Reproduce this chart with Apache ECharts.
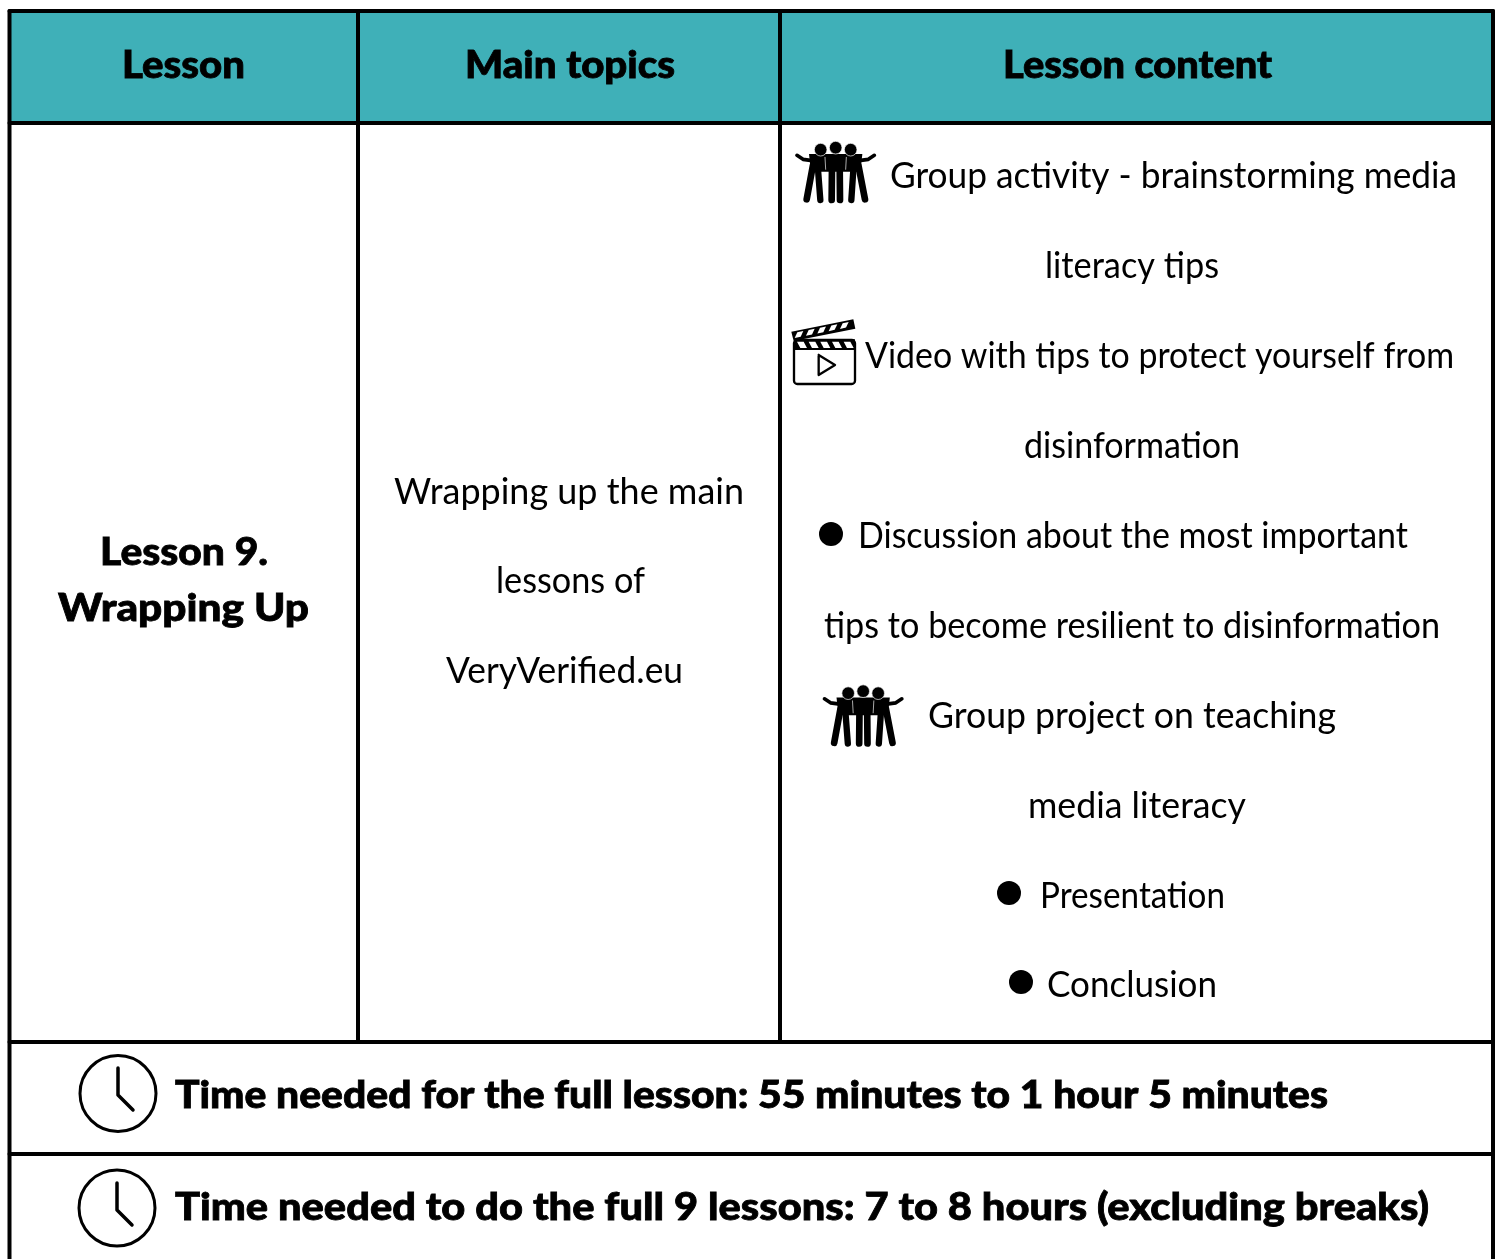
<!DOCTYPE html>
<html><head><meta charset="utf-8">
<style>html,body{margin:0;padding:0;background:#fff}#c{width:1499px;height:1259px}</style>
<script src="https://cdn.jsdelivr.net/npm/echarts@6/dist/echarts.min.js"></script>
</head><body><div id="c"></div>
<script>
const headers = ["Lesson", "Main topics", "Lesson content"];
const lessonTitle = ["Lesson 9.", "Wrapping Up"];
const mainTopics = ["Wrapping up the main", "lessons of", "VeryVerified.eu"];
const lessonContent = [
  "Group activity - brainstorming media", "literacy tips",
  "Video with tips to protect yourself from", "disinformation",
  "Discussion about the most important", "tips to become resilient to disinformation",
  "Group project on teaching", "media literacy", "Presentation", "Conclusion"
];
const footers = [
  "Time needed for the full lesson: 55 minutes to 1 hour 5 minutes",
  "Time needed to do the full 9 lessons: 7 to 8 hours (excluding breaks)"
];

const TEAL = "#3fb0b8", INK = "#000";
const REG = "Lato", BOLD = "Lato";
const ctx = document.createElement("canvas").getContext("2d");
function fit(str, x0, x1, cy, size, weight) {
  const font = `${weight} ${size}px ${weight > 500 ? BOLD : REG}`;
  ctx.font = font;
  const w = ctx.measureText(str).width;
  const style = { text: str, font, fill: INK, textAlign: "left", textVerticalAlign: "middle" };
  if (weight > 500) { style.stroke = INK; style.lineWidth = 0.8; }
  return { type: "text", x: x0, y: cy, scaleX: (x1 - x0) / w, z: 5, style };
}
const seg = (x1, y1, x2, y2, w, c) => ({ type: "line", z: 4,
  shape: { x1, y1, x2, y2 }, style: { stroke: c || INK, lineWidth: w, lineCap: "round" } });
const poly = (points, style) => ({ type: "polyline", z: 4, shape: { points },
  style: Object.assign({ fill: "none", stroke: INK, lineJoin: "round", lineCap: "round" }, style) });
const dot = (cx, cy, r, extra) => ({ type: "circle", z: 4, shape: { cx, cy, r }, style: Object.assign({ fill: INK }, extra) });

function people(x, y) {
  const kids = [
    { type: "polygon", z: 4, shape: { points: [[72,72],[232,72],[226,125],[78,125]] }, style: { fill: INK } },
    seg(84,105,65,208,20), seg(98,105,106,210,19),
    seg(141,105,140,210,20), seg(164,105,165,210,20),
    seg(206,105,199,210,19), seg(220,105,240,208,20),
    poly([[36,76],[54,88],[82,92]], { lineWidth: 11 }),
    poly([[268,76],[250,88],[222,92]], { lineWidth: 11 }),
    seg(120,82,122,118,2,"#fff"), seg(184,82,182,118,2,"#fff"),
    dot(107,59,19,{ stroke:"#fff", lineWidth:2 }), dot(197,59,19,{ stroke:"#fff", lineWidth:2 }),
    dot(152,53,19,{ stroke:"#fff", lineWidth:2 })
  ];
  return { type: "group", x, y, scaleX: 1/3, scaleY: 1/3, children: kids };
}
function clapper(x, y) {
  const kids = [
    { type: "rect", z: 4, shape: { x: 27, y: 90, width: 183, height: 132, r: 10 }, style: { fill: "#fff", stroke: INK, lineWidth: 7 } },
    { type: "rect", z: 4, shape: { x: 27, y: 88, width: 183, height: 32 }, style: { fill: INK } },
    { type: "polygon", z: 4, shape: { points: [[19,65],[205,28],[211,56],[26,93]] }, style: { fill: INK } }
  ];
  for (const i of [0,1,2,3,4]) {
    const ox = 36 + i * 35;
    kids.push({ type: "polygon", z: 5, shape: { points: [[ox,95],[ox+20,95],[ox+30,114],[ox+10,114]] }, style: { fill: "#fff" } });
    const a = 33 + i * 34, t = 66 - i * 6.8;
    kids.push({ type: "polygon", z: 5, shape: { points: [[a+4,t+1],[a+22,t-3],[a+14,t+14],[a-4,t+18]] }, style: { fill: "#fff" } });
  }
  kids.push(poly([[101,135],[150,165],[101,195],[101,135]], { lineWidth: 7 }));
  return { type: "group", x, y, scaleX: 1/3, scaleY: 1/3, children: kids };
}
function clock(cx, cy, r, top, knee, ex, ey) {
  return [
    { type: "circle", z: 4, shape: { cx, cy, r }, style: { fill: "none", stroke: INK, lineWidth: 3 } },
    poly([[cx, top], [cx, knee], [ex, ey]], { lineWidth: 3.5 })
  ];
}

const B = 4;
const el = [
  { type: "rect", z: 1, shape: { x: 9, y: 11, width: 1484, height: 112 }, style: { fill: TEAL } },
  seg(9.5,11,1493,11,B), seg(9.5,11,9.5,1259,B), seg(1493,11,1493,1259,B),
  seg(9.5,123,1493,123,B), seg(9.5,1042,1493,1042,B), seg(9.5,1154,1493,1154,B),
  seg(358,11,358,1042,B), seg(780,11,780,1042,B),

  fit(headers[0], 122, 245, 66, 37, 900),
  fit(headers[1], 465, 675, 66, 37, 900),
  fit(headers[2], 1003, 1272, 66, 37, 900),
  fit(lessonTitle[0], 100, 268, 553.5, 37, 900),
  fit(lessonTitle[1], 58, 309, 609.5, 37, 900),
  fit(mainTopics[0], 394, 744, 492.5, 37, 400),
  fit(mainTopics[1], 496, 645, 581.5, 37, 400),
  fit(mainTopics[2], 446, 683, 671.5, 37, 400),
  fit(lessonContent[0], 890, 1457, 176.5, 37, 400),
  fit(lessonContent[1], 1045, 1219, 266.5, 37, 400),
  fit(lessonContent[2], 865, 1454, 356.5, 37, 400),
  fit(lessonContent[3], 1024, 1240, 446.5, 37, 400),
  fit(lessonContent[4], 858, 1408, 536.5, 37, 400),
  fit(lessonContent[5], 824, 1440, 626.5, 37, 400),
  fit(lessonContent[6], 928, 1336, 716.5, 37, 400),
  fit(lessonContent[7], 1028, 1246, 806.5, 37, 400),
  fit(lessonContent[8], 1040, 1225, 896.5, 37, 400),
  fit(lessonContent[9], 1047, 1217, 985.5, 37, 400),
  fit(footers[0], 175, 1328, 1096.5, 37, 900),
  fit(footers[1], 175, 1429, 1208.5, 37, 900),

  dot(831,534,12), dot(1009,893,12), dot(1021,982,12),
  people(785,130), people(812.5,673.5), clapper(785,310),
  ...clock(118,1093.5,38,1068,1095,133,1110),
  ...clock(117,1208,38,1183,1210,132,1225)
];
const chart = echarts.init(document.getElementById("c"), null, { renderer: "canvas" });
chart.setOption({ animation: false, backgroundColor: "#fff", graphic: { elements: el } });
</script></body></html>
